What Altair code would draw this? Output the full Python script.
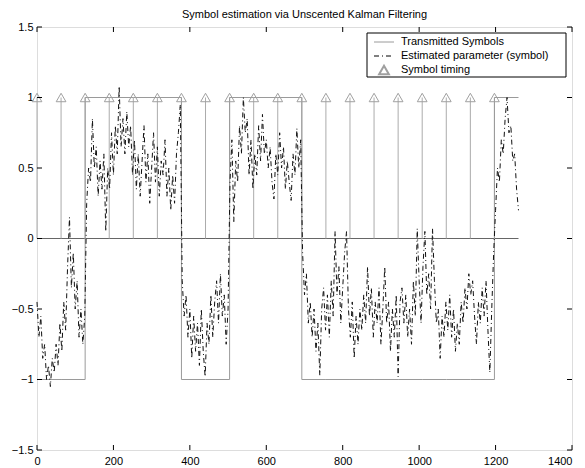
import altair as alt
import pandas as pd

# ---------------- data ----------------
TITLE = "Symbol estimation via Unscented Kalman Filtering"
LEGEND_LABELS = ["Transmitted Symbols", "Estimated parameter (symbol)", "Symbol timing"]

symbol_period = 63
symbols = [-1, -1, 1, 1, 1, 1, -1, -1, 1, 1, 1, -1, -1, -1, -1, -1, -1, -1, -1, 1]

x_ticks = [0, 200, 400, 600, 800, 1000, 1200, 1400]
y_ticks = [-1.5, -1, -0.5, 0, 0.5, 1, 1.5]

# estimated parameter, sampled every 5 time steps, segment by segment (start, values)
est_step = 5
est_segments = [
    (0, [-0.45, -0.7, -0.55, -0.85, -0.75, -1.0, -0.9, -1.05, -0.85, -0.95, -0.75, -0.9, -0.6,
         -0.8, -0.45, -0.65, -0.2, 0.15, -0.35, -0.1, -0.5, -0.3, -0.7, -0.5, -0.75, -0.55]),
    (130, [0.25, 0.5, 0.4, 0.85, 0.5, 0.65, 0.3, 0.55, 0.35, 0.6, 0.05, 0.5, 0.35, 0.75, 0.45,
           0.8, 0.6, 1.08, 0.65, 0.85, 0.6, 0.9, 0.65, 0.8, 0.45, 0.7, 0.35, 0.6, 0.3, 0.55,
           0.8, 0.4, 0.6, 0.25, 0.5, 0.75, 0.4, 0.65, 0.3, 0.55, 0.45, 0.7, 0.3, 0.5, 0.2,
           0.45, 0.25, 0.6, 0.75, 0.95]),
    (380, [-0.3, -0.55, -0.4, -0.7, -0.5, -0.85, -0.55, -0.8, -0.6, -0.9, -0.5, -0.8, -0.98,
           -0.6, -0.75, -0.4, -0.7, -0.45, -0.3, -0.6, -0.25, -0.55, -0.4, -0.75, -0.5]),
    (505, [0.4, 0.7, 0.12, 0.55, 0.4, 0.8, 0.6, 1.0, 0.75, 0.85, 0.45, 0.7, 0.35, 0.6, 0.45,
           0.8, 0.55, 0.88, 0.6, 0.7, 0.5, 0.65, 0.4, 0.28, 0.6, 0.45, 0.75, 0.5, 0.65, 0.35,
           0.55, 0.4, 0.27, 0.6, 0.45, 0.78, 0.5, 0.7]),
    (695, [-0.1, -0.4, -0.25, -0.6, -0.45, -0.7, -0.5, -0.8, -0.6, -0.97, -0.5, -0.35, -0.65,
           -0.4, -0.7, -0.3, -0.55, 0.05, -0.4, -0.2, -0.6, -0.35, -0.1, 0.05, -0.5, -0.7,
           -0.45, -0.85, -0.55, -0.75, -0.5, -0.65, -0.4, -0.6, -0.2, -0.55, -0.35, -0.7,
           -0.45, -0.6, -0.35, -0.75, -0.5, -0.2, -0.6, -0.45, -0.8, -0.5, -0.7, -0.4, -0.98,
           -0.45, -0.35, -0.6, -0.4, -0.7, -0.5, -0.75, -0.3, -0.55, 0.07, -0.3, -0.6, -0.2,
           0.05, -0.4, -0.25, -0.5, 0.07, -0.3, -0.6, -0.5, -0.85, -0.55, -0.7, -0.45, -0.65,
           -0.4, -0.7, -0.5, -0.8, -0.6, -0.75, -0.45, -0.6, -0.35, -0.5, -0.25, -0.4, -0.3,
           -0.55, -0.75, -0.45, -0.6, -0.35, -0.55, -0.3, -0.65, -0.95, -0.5, -0.1]),
    (1200, [0.2, 0.5, 0.4, 0.7, 0.6, 0.85, 1.0, 0.75, 0.8, 0.55, 0.6, 0.35, 0.2]),
]

# ---------------- tables ----------------
step_rows = []
for k, s in enumerate(symbols):
    step_rows.append({"t": k * symbol_period, "v": s, "o": 2 * k})
    step_rows.append({"t": (k + 1) * symbol_period, "v": s, "o": 2 * k + 1})
step_df = pd.DataFrame(step_rows)

est_rows = []
for start, vals in est_segments:
    for i, v in enumerate(vals):
        est_rows.append({"t": start + est_step * i, "v": v})
est_df = pd.DataFrame(est_rows)

timing_df = pd.DataFrame({"t": [k * symbol_period for k in range(len(symbols))],
                          "lo": 0, "hi": 1})
base_df = pd.DataFrame({"t": [0], "t2": [len(symbols) * symbol_period], "v": [0]})

W, H = 535, 423
FONT = "Liberation Sans"
GRAY = "#9a9a9a"

xs = alt.Scale(domain=[0, 1400], nice=False, zero=False)
ys = alt.Scale(domain=[-1.5, 1.5], nice=False, zero=False)

x_axis = alt.Axis(values=x_ticks, tickSize=0, domain=False, grid=False, title=None,
                  format="d", labelFont=FONT, labelFontSize=11, labelColor="black",
                  labelPadding=5, labelFlush=False,
                  labelAlign={"condition": {"test": "datum.value >= 1400", "value": "right"},
                              "value": "center"})
y_axis = alt.Axis(values=y_ticks, tickSize=0, domain=False, grid=False, title=None,
                  format="~g", labelFont=FONT, labelFontSize=11, labelColor="black",
                  labelPadding=4)

base_line = alt.Chart(base_df).mark_rule(color="#666666", strokeWidth=1).encode(
    x=alt.X("t:Q", scale=xs, axis=x_axis), x2="t2:Q",
    y=alt.Y("v:Q", scale=ys, axis=y_axis))

stems = alt.Chart(timing_df).mark_rule(color="#ababab", strokeWidth=1).encode(
    x=alt.X("t:Q", scale=xs), y=alt.Y("lo:Q", scale=ys), y2="hi:Q")

step_line = alt.Chart(step_df).mark_line(color=GRAY, strokeWidth=1, interpolate="linear").encode(
    x=alt.X("t:Q", scale=xs), y=alt.Y("v:Q", scale=ys), order="o:Q")

est_line = alt.Chart(est_df).mark_line(color="#111111", strokeWidth=1,
                                       strokeDash=[5, 3, 1, 3]).encode(
    x=alt.X("t:Q", scale=xs), y=alt.Y("v:Q", scale=ys), order="t:Q")

markers = alt.Chart(timing_df).mark_point(shape="triangle-up", filled=False, color="#a0a0a0",
                                          size=95, strokeWidth=1, opacity=1).encode(
    x=alt.X("t:Q", scale=xs), y=alt.Y("hi:Q", scale=ys))

# inward ticks on all four sides
xt_df = pd.DataFrame({"t": x_ticks})
yt_df = pd.DataFrame({"v": y_ticks})
ticks = [
    alt.Chart(xt_df).mark_rule(color="black").encode(
        x=alt.X("t:Q", scale=xs), y=alt.value(H), y2=alt.value(H - 5)),
    alt.Chart(xt_df).mark_rule(color="black").encode(
        x=alt.X("t:Q", scale=xs), y=alt.value(0), y2=alt.value(5)),
    alt.Chart(yt_df).mark_rule(color="black").encode(
        y=alt.Y("v:Q", scale=ys), x=alt.value(0), x2=alt.value(5)),
    alt.Chart(yt_df).mark_rule(color="black").encode(
        y=alt.Y("v:Q", scale=ys), x=alt.value(W), x2=alt.value(W - 5)),
]

one = alt.Data(values=[{"a": 1}])
title = alt.Chart(one).mark_text(text=TITLE, font=FONT, fontSize=11, align="center",
                                 baseline="middle", color="black").encode(
    x=alt.value(W / 2), y=alt.value(-12))

# legend box drawn inside the plot area
lx0, lx1, ly0, ly1 = 330, 529, 6, 50
rows_y = [15, 29, 43]
legend_box = alt.Chart(one).mark_rect(fill="white", stroke="black", strokeWidth=1).encode(
    x=alt.value(lx0), x2=alt.value(lx1), y=alt.value(ly0), y2=alt.value(ly1))
leg1 = alt.Chart(one).mark_rule(color=GRAY, strokeWidth=1).encode(
    x=alt.value(337), x2=alt.value(357), y=alt.value(rows_y[0]))
leg2 = alt.Chart(one).mark_rule(color="black", strokeWidth=1, strokeDash=[5, 3, 1, 3]).encode(
    x=alt.value(337), x2=alt.value(357), y=alt.value(rows_y[1]))
leg3 = alt.Chart(one).mark_point(shape="triangle-up", filled=False, color="#a0a0a0",
                                 size=95, opacity=1).encode(x=alt.value(347), y=alt.value(rows_y[2]))
leg_text = alt.Chart(pd.DataFrame({"label": LEGEND_LABELS, "yy": rows_y})).mark_text(
    font=FONT, fontSize=11, align="left", baseline="middle", color="black").encode(
    text="label:N", x=alt.value(364), y=alt.Y("yy:Q", scale=None))

chart = alt.layer(
    base_line, stems, step_line, est_line, markers, *ticks,
    legend_box, leg1, leg2, leg3, leg_text, title,
).properties(
    width=W, height=H,
    autosize=alt.AutoSizeParams(type="none"),
    padding={"left": 29, "top": 19, "right": 5, "bottom": 18},
).configure_view(stroke="black", strokeWidth=1).configure(background="white")

chart.save("out.html", embed_options={"renderer": "svg", "actions": False})
